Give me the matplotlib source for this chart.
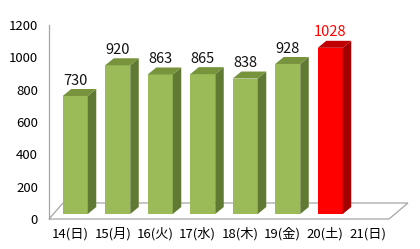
import matplotlib
# headless
matplotlib.use('Agg')
from matplotlib import pyplot as plt
from matplotlib.patches import Polygon

# data (21st has no value yet)
days = ['14(日)', '15(月)', '16(火)', '17(水)', '18(木)', '19(金)', '20(土)', '21(日)']
values = [730, 920, 863, 865, 838, 928, 1028]
highlight = 6
y_ticks = [0, 200, 400, 600, 800, 1000, 1200]

plt.rcParams['font.family'] = ['Noto Sans CJK JP', 'DejaVu Sans']

fig = plt.figure(figsize=(4.2, 2.49), dpi=100)
ax = fig.add_axes([49 / 420, 30 / 249, 340 / 420, 194 / 249])
ax.set_xlim(-0.5, len(days) - 0.5)
ax.set_ylim(0, 1200)

# pixel -> data unit helpers (limits are fixed above)
px_x = len(days) / 340
px_y = 1200 / 194

# floor of the 3d box
floor = Polygon([(-0.5, 0), (len(days) - 0.5, 0),
                 (len(days) - 0.5 + 19 * px_x, 16 * px_y), (-0.5 + 14 * px_x, 16 * px_y)],
                closed=True, facecolor='white', edgecolor='#A6A6A6', lw=0.9, zorder=1,
                clip_on=False)
ax.add_patch(floor)

shift_x = 5 * px_x
base = 5 * px_y
width = 25 * px_x
ddx = 8.5 * px_x
ddy = 7 * px_y

green = ('#9BBB59', '#77933C', '#617A33')
red = ('#FF0000', '#C00000', '#A00000')

xs = [i + shift_x for i in range(len(values))]
cols = [red if i == highlight else green for i in range(len(values))]

ax.bar(xs, values, width=width, bottom=base, color=[c[0] for c in cols], zorder=3)

for x, v, c in zip(xs, values, cols):
    xl, xr, top = x - width / 2, x + width / 2, base + v
    side = Polygon([(xr, base), (xr, top), (xr + ddx, top + ddy), (xr + ddx, base + ddy)],
                   closed=True, facecolor=c[2], edgecolor='none', zorder=3)
    cap = Polygon([(xl, top), (xr, top), (xr + ddx, top + ddy), (xl + ddx, top + ddy)],
                  closed=True, facecolor=c[1], edgecolor='none', zorder=3)
    ax.add_patch(side)
    ax.add_patch(cap)
    ax.annotate(str(v), (x, top), xytext=(0, 6), textcoords='offset points',
                ha='center', va='bottom', fontsize=10.5,
                color='#FF0000' if c is red else '#111111')

ax.set_xticks(range(len(days)))
ax.set_xticklabels(days, fontsize=9.5)
ax.set_yticks(y_ticks)
ax.set_yticklabels([str(t) for t in y_ticks], fontsize=9.5)
ax.tick_params(axis='both', length=0)
ax.tick_params(axis='x', pad=6)
ax.tick_params(axis='y', pad=8)

for s in ['top', 'right', 'bottom']:
    ax.spines[s].set_visible(False)
ax.spines['left'].set_color('#A6A6A6')
ax.spines['left'].set_linewidth(0.9)
ax.patch.set_visible(False)

fig.savefig('out.png', dpi=100)
